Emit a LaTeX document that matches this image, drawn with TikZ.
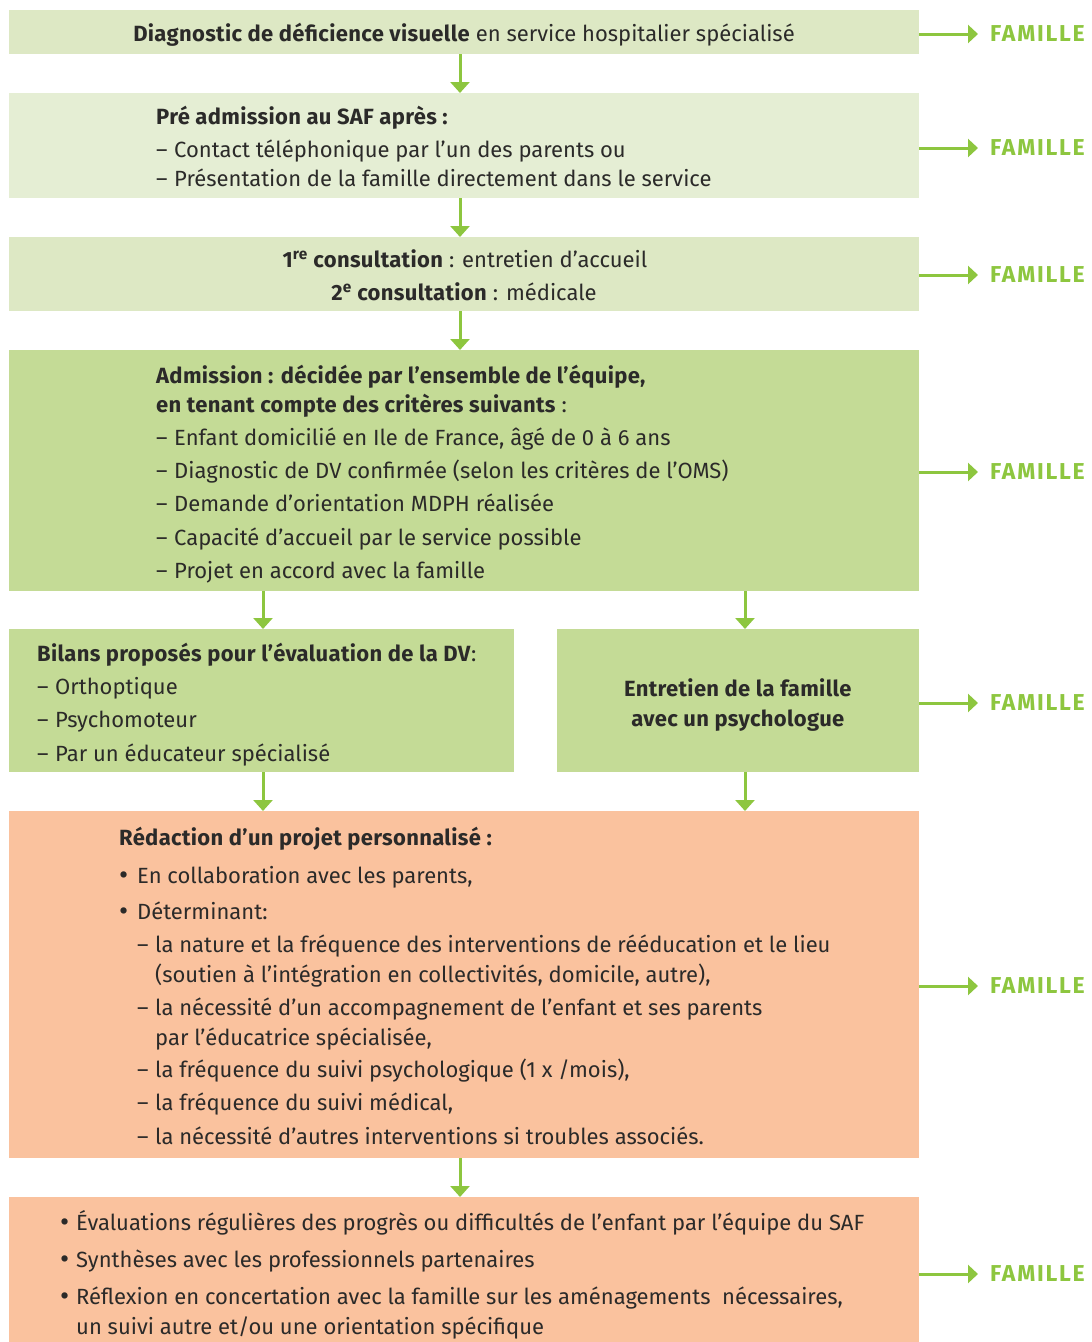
\documentclass[tikz,border=0pt]{standalone}
\usepackage{fontspec}
\setmainfont{Fira Sans}[BoldFeatures={LetterSpace=1.5}]
\newfontfamily\famfam{Fira Sans}[BoldFeatures={LetterSpace=7.5}]
\usetikzlibrary{arrows.meta}
\definecolor{gA}{HTML}{DDE8C4}
\definecolor{gB}{HTML}{E5EED4}
\definecolor{gC}{HTML}{C4DB96}
\definecolor{orA}{HTML}{FAC29E}
\definecolor{grn}{HTML}{8DC63F}
\definecolor{txt}{HTML}{2B2A29}
\newcommand\fsz{\fontsize{22}{26}\selectfont}
\newcommand\famfont{\famfam\fontsize{23}{26}\selectfont\bfseries}
\newcommand\dsh{\makebox[18pt][l]{–}}
\newcommand\bul{\makebox[18pt][l]{\raisebox{-1pt}{\fontsize{28}{28}\selectfont•}}}
\newcommand\bulb{\makebox[16pt][l]{\raisebox{-1pt}{\fontsize{28}{28}\selectfont•}}}
\begin{document}
\begin{tikzpicture}[x=1pt,y=-1pt,
  box/.style={fill=#1, draw=none, inner sep=0, anchor=north west},
  lt/.style={anchor=base west, inner sep=0, font=\fsz, text=txt},
  ct/.style={anchor=base, inner sep=0, font=\fsz, text=txt},
  fam/.style={anchor=west, inner sep=0, font=\famfont, text=grn},
  arr/.style={draw=grn, line width=3pt, -{Triangle[width=19pt,length=11pt]}},
  farr/.style={draw=grn, line width=3pt, -{Triangle[width=18pt,length=10pt]}, shorten >=12pt}]
\useasboundingbox (0,0) rectangle (1092,1342);
% boxes
\node[box=gA, minimum width=910pt, minimum height=44pt] (b1) at (9,10) {};
\node[box=gB, minimum width=910pt, minimum height=105pt] (b2) at (9,93) {};
\node[box=gA, minimum width=910pt, minimum height=74pt] (b3) at (9,237) {};
\node[box=gC, minimum width=910pt, minimum height=241pt] (b4) at (9,350) {};
\node[box=gC, minimum width=505pt, minimum height=143pt] (b5a) at (9,629) {};
\node[box=gC, minimum width=362pt, minimum height=143pt] (b5b) at (557,629) {};
\node[box=orA, minimum width=910pt, minimum height=347pt] (b6) at (9,811) {};
\node[box=orA, minimum width=910pt, minimum height=146pt] (b7) at (9,1197) {};
% vertical arrows
\coordinate (x1) at (460,0);
\coordinate (x2) at (263,0);
\coordinate (x3) at (745,0);
\draw[arr] (b1.south -| x1) -- (b2.north -| x1);
\draw[arr] (b2.south -| x1) -- (b3.north -| x1);
\draw[arr] (b3.south -| x1) -- (b4.north -| x1);
\draw[arr] (b4.south -| x2) -- (b5a.north -| x2);
\draw[arr] (b4.south -| x3) -- (b5b.north -| x3);
\draw[arr] (b5a.south -| x2) -- (b6.north -| x2);
\draw[arr] (b5b.south -| x3) -- (b6.north -| x3);
\draw[arr] (b6.south -| x1) -- (b7.north -| x1);
% FAMILLE
\node[fam] (f1) at (990,34) {FAMILLE};
\node[fam] (f2) at (990,148) {FAMILLE};
\node[fam] (f3) at (990,275) {FAMILLE};
\node[fam] (f4) at (990,472) {FAMILLE};
\node[fam] (f5) at (990,703) {FAMILLE};
\node[fam] (f6) at (990,986) {FAMILLE};
\node[fam] (f7) at (990,1274) {FAMILLE};
\draw[farr] (b1.east |- f1) -- (f1.west);
\draw[farr] (b2.east |- f2) -- (f2.west);
\draw[farr] (b3.east |- f3) -- (f3.west);
\draw[farr] (b4.east |- f4) -- (f4.west);
\draw[farr] (b5b.east |- f5) -- (f5.west);
\draw[farr] (b6.east |- f6) -- (f6.west);
\draw[farr] (b7.east |- f7) -- (f7.west);
% box 1
\node[ct] (t1) at (464,41) {\textbf{Diagnostic de déficience visuelle} en service hospitalier spécialisé};
% box 2
\node[lt] (t2a) at (156,124) {\textbf{Pré admission au SAF après :}};
\node[lt] (t2b) at (156,157) {\dsh Contact téléphonique par l’un des parents ou};
\node[lt] (t2c) at (156,186) {\dsh Présentation de la famille directement dans le service};
% box 3
\node[ct] (t3a) at (465,267) {\textbf{1\textsuperscript{re} consultation} : entretien d’accueil};
\node[ct] (t3b) at (464,300) {\textbf{2\textsuperscript{e} consultation} : médicale};
% box 4
\node[lt] (t4a) at (156,383) {\textbf{Admission : décidée par l’ensemble de l’équipe,}};
\node[lt] (t4b) at (156,412) {\textbf{en tenant compte des critères suivants} :};
\node[lt] (t4c) at (156,445) {\dsh Enfant domicilié en Ile de France, âgé de 0 à 6 ans};
\node[lt] (t4d) at (156,478) {\dsh Diagnostic de DV confirmée (selon les critères de l’OMS)};
\node[lt] (t4e) at (156,511) {\dsh Demande d’orientation MDPH réalisée};
\node[lt] (t4f) at (156,545) {\dsh Capacité d’accueil par le service possible};
\node[lt] (t4g) at (156,578) {\dsh Projet en accord avec la famille};
% box 5a
\node[lt] (t5a) at (37,661) {\textbf{Bilans proposés pour l’évaluation de la DV}:};
\node[lt] (t5b) at (37,694) {\dsh Orthoptique};
\node[lt] (t5c) at (37,727) {\dsh Psychomoteur};
\node[lt] (t5d) at (37,761) {\dsh Par un éducateur spécialisé};
% box 5b
\node[ct] (t5e) at (738,696) {\textbf{Entretien de la famille}};
\node[ct] (t5f) at (738,726) {\textbf{avec un psychologue}};
% box 6
\node[lt] (t6a) at (119,845) {\textbf{Rédaction d’un projet personnalisé :}};
\node[lt] (t6b) at (119,883) {\bul En collaboration avec les parents,};
\node[lt] (t6c) at (119,919) {\bul Déterminant:};
\node[lt] (t6d) at (137,952) {\dsh la nature et la fréquence des interventions de rééducation et le lieu};
\node[lt] (t6e) at (155,982) {(soutien à l’intégration en collectivités, domicile, autre),};
\node[lt] (t6f) at (137,1015) {\dsh la nécessité d’un accompagnement de l’enfant et ses parents};
\node[lt] (t6g) at (155,1045) {par l’éducatrice spécialisée,};
\node[lt] (t6h) at (137,1077) {\dsh la fréquence du suivi psychologique (1 x /mois),};
\node[lt] (t6i) at (137,1110) {\dsh la fréquence du suivi médical,};
\node[lt] (t6j) at (137,1144) {\dsh la nécessité d’autres interventions si troubles associés.};
% box 7
\node[lt] (t7a) at (60,1230) {\bulb Évaluations régulières des progrès ou difficultés de l’enfant par l’équipe du SAF};
\node[lt] (t7b) at (60,1267) {\bulb Synthèses avec les professionnels partenaires};
\node[lt] (t7c) at (60,1304) {\bulb Réflexion en concertation avec la famille sur les aménagements\ \ nécessaires,};
\node[lt] (t7d) at (76,1334) {un suivi autre et/ou une orientation spécifique};
\end{tikzpicture}
\end{document}
